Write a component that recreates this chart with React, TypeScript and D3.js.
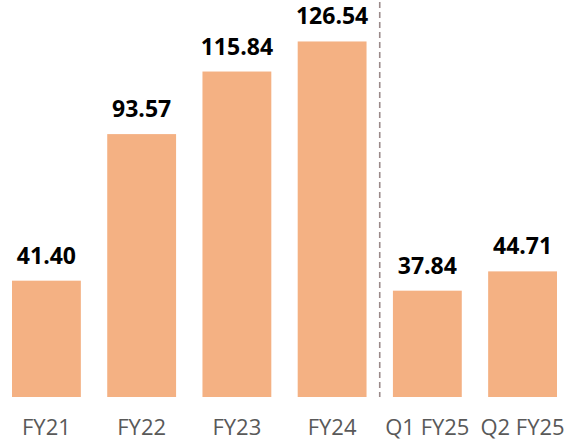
import React from 'react';
import { scaleBand, scaleLinear } from 'd3';

const categories = ['FY21', 'FY22', 'FY23', 'FY24', 'Q1 FY25', 'Q2 FY25'];
const values = [41.4, 93.57, 115.84, 126.54, 37.84, 44.71];
const valueLabels = ['41.40', '93.57', '115.84', '126.54', '37.84', '44.71'];
// the dashed divider sits after this category
const dividerAfter = 'FY24';

export default function App() {
  const width = 566,
    height = 442;
  const baseline = 397;

  const xScale = scaleBand<string>()
    .domain(categories)
    .range([12, 557])
    .paddingInner(0.277)
    .paddingOuter(0);

  const yScale = scaleLinear().domain([0, 141.3]).range([baseline, 0]);

  const gap = xScale.step() - xScale.bandwidth();
  const dividerX = (xScale(dividerAfter) ?? 0) + xScale.bandwidth() + gap / 2;

  return (
    <svg
      width={width}
      height={height}
      style={{ position: 'absolute', left: 0, top: 0, background: '#fff' }}
    >
      <line
        x1={dividerX}
        x2={dividerX}
        y1={2}
        y2={baseline}
        stroke="#9a8a8a"
        strokeWidth={1.6}
        strokeDasharray="6,4"
      />
      {categories.map((c, i) => {
        const x = xScale(c) ?? 0;
        const cx = x + xScale.bandwidth() / 2;
        const y = yScale(values[i]);
        return (
          <g key={c}>
            <rect
              x={x}
              y={y}
              width={xScale.bandwidth()}
              height={baseline - y}
              fill="#F4B183"
            />
            <text
              x={cx}
              y={y - 17}
              textAnchor="middle"
              fontFamily="'Open Sans', sans-serif"
              fontWeight="bold"
              fontSize={23}
              fill="#000"
            >
              {valueLabels[i]}
            </text>
            <text
              x={cx}
              y={435}
              textAnchor="middle"
              fontFamily="'Open Sans', sans-serif"
              fontSize={22}
              fill="#595959"
            >
              {c}
            </text>
          </g>
        );
      })}
    </svg>
  );
}
